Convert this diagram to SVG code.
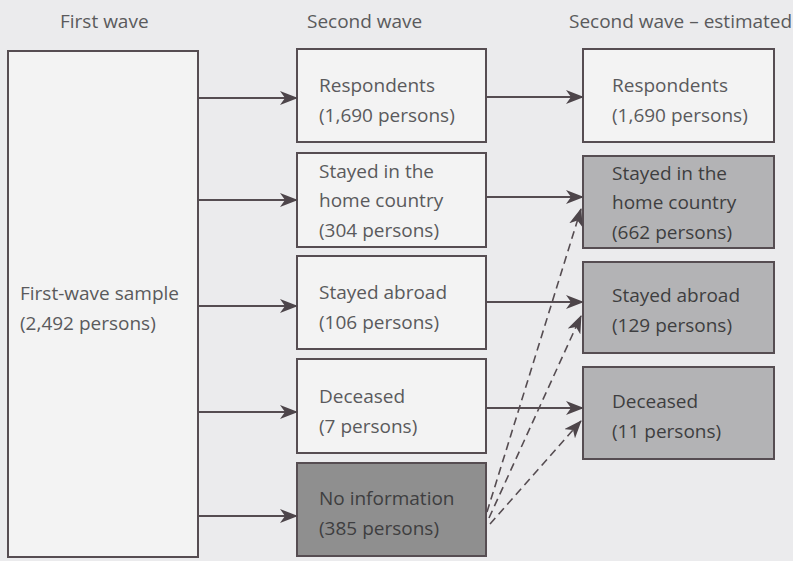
<svg xmlns="http://www.w3.org/2000/svg" width="793" height="561" viewBox="0 0 793 561">
<defs>
<style>
.bg{fill:#ebebed}
.box{fill:#f3f3f3;stroke:#564d52;stroke-width:2}
.dark{fill:#8f8f8f;stroke:#564d52;stroke-width:2}
.mid{fill:#b3b3b5;stroke:#564d52;stroke-width:2}
text{font-family:"Open Sans","Liberation Sans",sans-serif;font-size:19px;fill:#5a5a5c}
.dk text{fill:#3e3e40}
.conn{stroke:#554c51;stroke-width:2;fill:none}
.dash{stroke-dasharray:8,5;stroke-width:1.6}
</style>
<marker id="ah" viewBox="0 0 18 14" refX="17" refY="7" markerWidth="18" markerHeight="14" markerUnits="userSpaceOnUse" orient="auto">
<path d="M0,0 L18,7 L0,14 L5,7 Z" fill="#4d454a"/>
</marker>
</defs>
<rect class="bg" x="0" y="0" width="793" height="561"/>
<g id="headers">
<text x="60" y="28">First wave</text>
<text x="307" y="28">Second wave</text>
<text x="569" y="28">Second wave – estimated</text>
</g>
<g id="first-wave">
<rect class="box" x="8" y="51" width="190" height="506"/>
<text x="20" y="300">First-wave sample</text>
<text x="20" y="330">(2,492 persons)</text>
</g>
<g id="sw-respondents">
<rect class="box" x="297" y="49" width="189" height="93"/>
<text x="319" y="92">Respondents</text>
<text x="319" y="122">(1,690 persons)</text>
</g>
<g id="sw-home">
<rect class="box" x="297" y="153" width="189" height="94"/>
<text x="319" y="178">Stayed in the</text>
<text x="319" y="207">home country</text>
<text x="319" y="237">(304 persons)</text>
</g>
<g id="sw-abroad">
<rect class="box" x="297" y="256" width="189" height="93"/>
<text x="319" y="299">Stayed abroad</text>
<text x="319" y="329">(106 persons)</text>
</g>
<g id="sw-deceased">
<rect class="box" x="297" y="359" width="189" height="94"/>
<text x="319" y="403">Deceased</text>
<text x="319" y="433">(7 persons)</text>
</g>
<g id="sw-noinfo" class="dk">
<rect class="dark" x="297" y="463" width="189" height="93"/>
<text x="319" y="505">No information</text>
<text x="319" y="535">(385 persons)</text>
</g>
<g id="est-respondents">
<rect class="box" x="583" y="49" width="191" height="93"/>
<text x="612" y="92">Respondents</text>
<text x="612" y="122">(1,690 persons)</text>
</g>
<g id="est-home" class="dk">
<rect class="mid" x="583" y="156" width="191" height="92"/>
<text x="612" y="180">Stayed in the</text>
<text x="612" y="209">home country</text>
<text x="612" y="239">(662 persons)</text>
</g>
<g id="est-abroad" class="dk">
<rect class="mid" x="583" y="262" width="191" height="91"/>
<text x="612" y="302">Stayed abroad</text>
<text x="612" y="332">(129 persons)</text>
</g>
<g id="est-deceased" class="dk">
<rect class="mid" x="583" y="367" width="191" height="92"/>
<text x="612" y="408">Deceased</text>
<text x="612" y="438">(11 persons)</text>
</g>
<g id="connectors">
<line class="conn" x1="198" y1="98" x2="297" y2="98" marker-end="url(#ah)"/>
<line class="conn" x1="198" y1="200" x2="297" y2="200" marker-end="url(#ah)"/>
<line class="conn" x1="198" y1="306" x2="297" y2="306" marker-end="url(#ah)"/>
<line class="conn" x1="198" y1="412" x2="297" y2="412" marker-end="url(#ah)"/>
<line class="conn" x1="198" y1="516" x2="297" y2="516" marker-end="url(#ah)"/>
<line class="conn" x1="486" y1="97" x2="583" y2="97" marker-end="url(#ah)"/>
<line class="conn" x1="486" y1="197" x2="583" y2="197" marker-end="url(#ah)"/>
<line class="conn" x1="486" y1="302" x2="583" y2="302" marker-end="url(#ah)"/>
<line class="conn" x1="486" y1="408" x2="583" y2="408" marker-end="url(#ah)"/>
<line class="conn dash" x1="487" y1="512" x2="581" y2="209" marker-end="url(#ah)"/>
<line class="conn dash" x1="489" y1="518" x2="581" y2="316" marker-end="url(#ah)"/>
<line class="conn dash" x1="490" y1="524" x2="581" y2="421" marker-end="url(#ah)"/>
</g>
</svg>
